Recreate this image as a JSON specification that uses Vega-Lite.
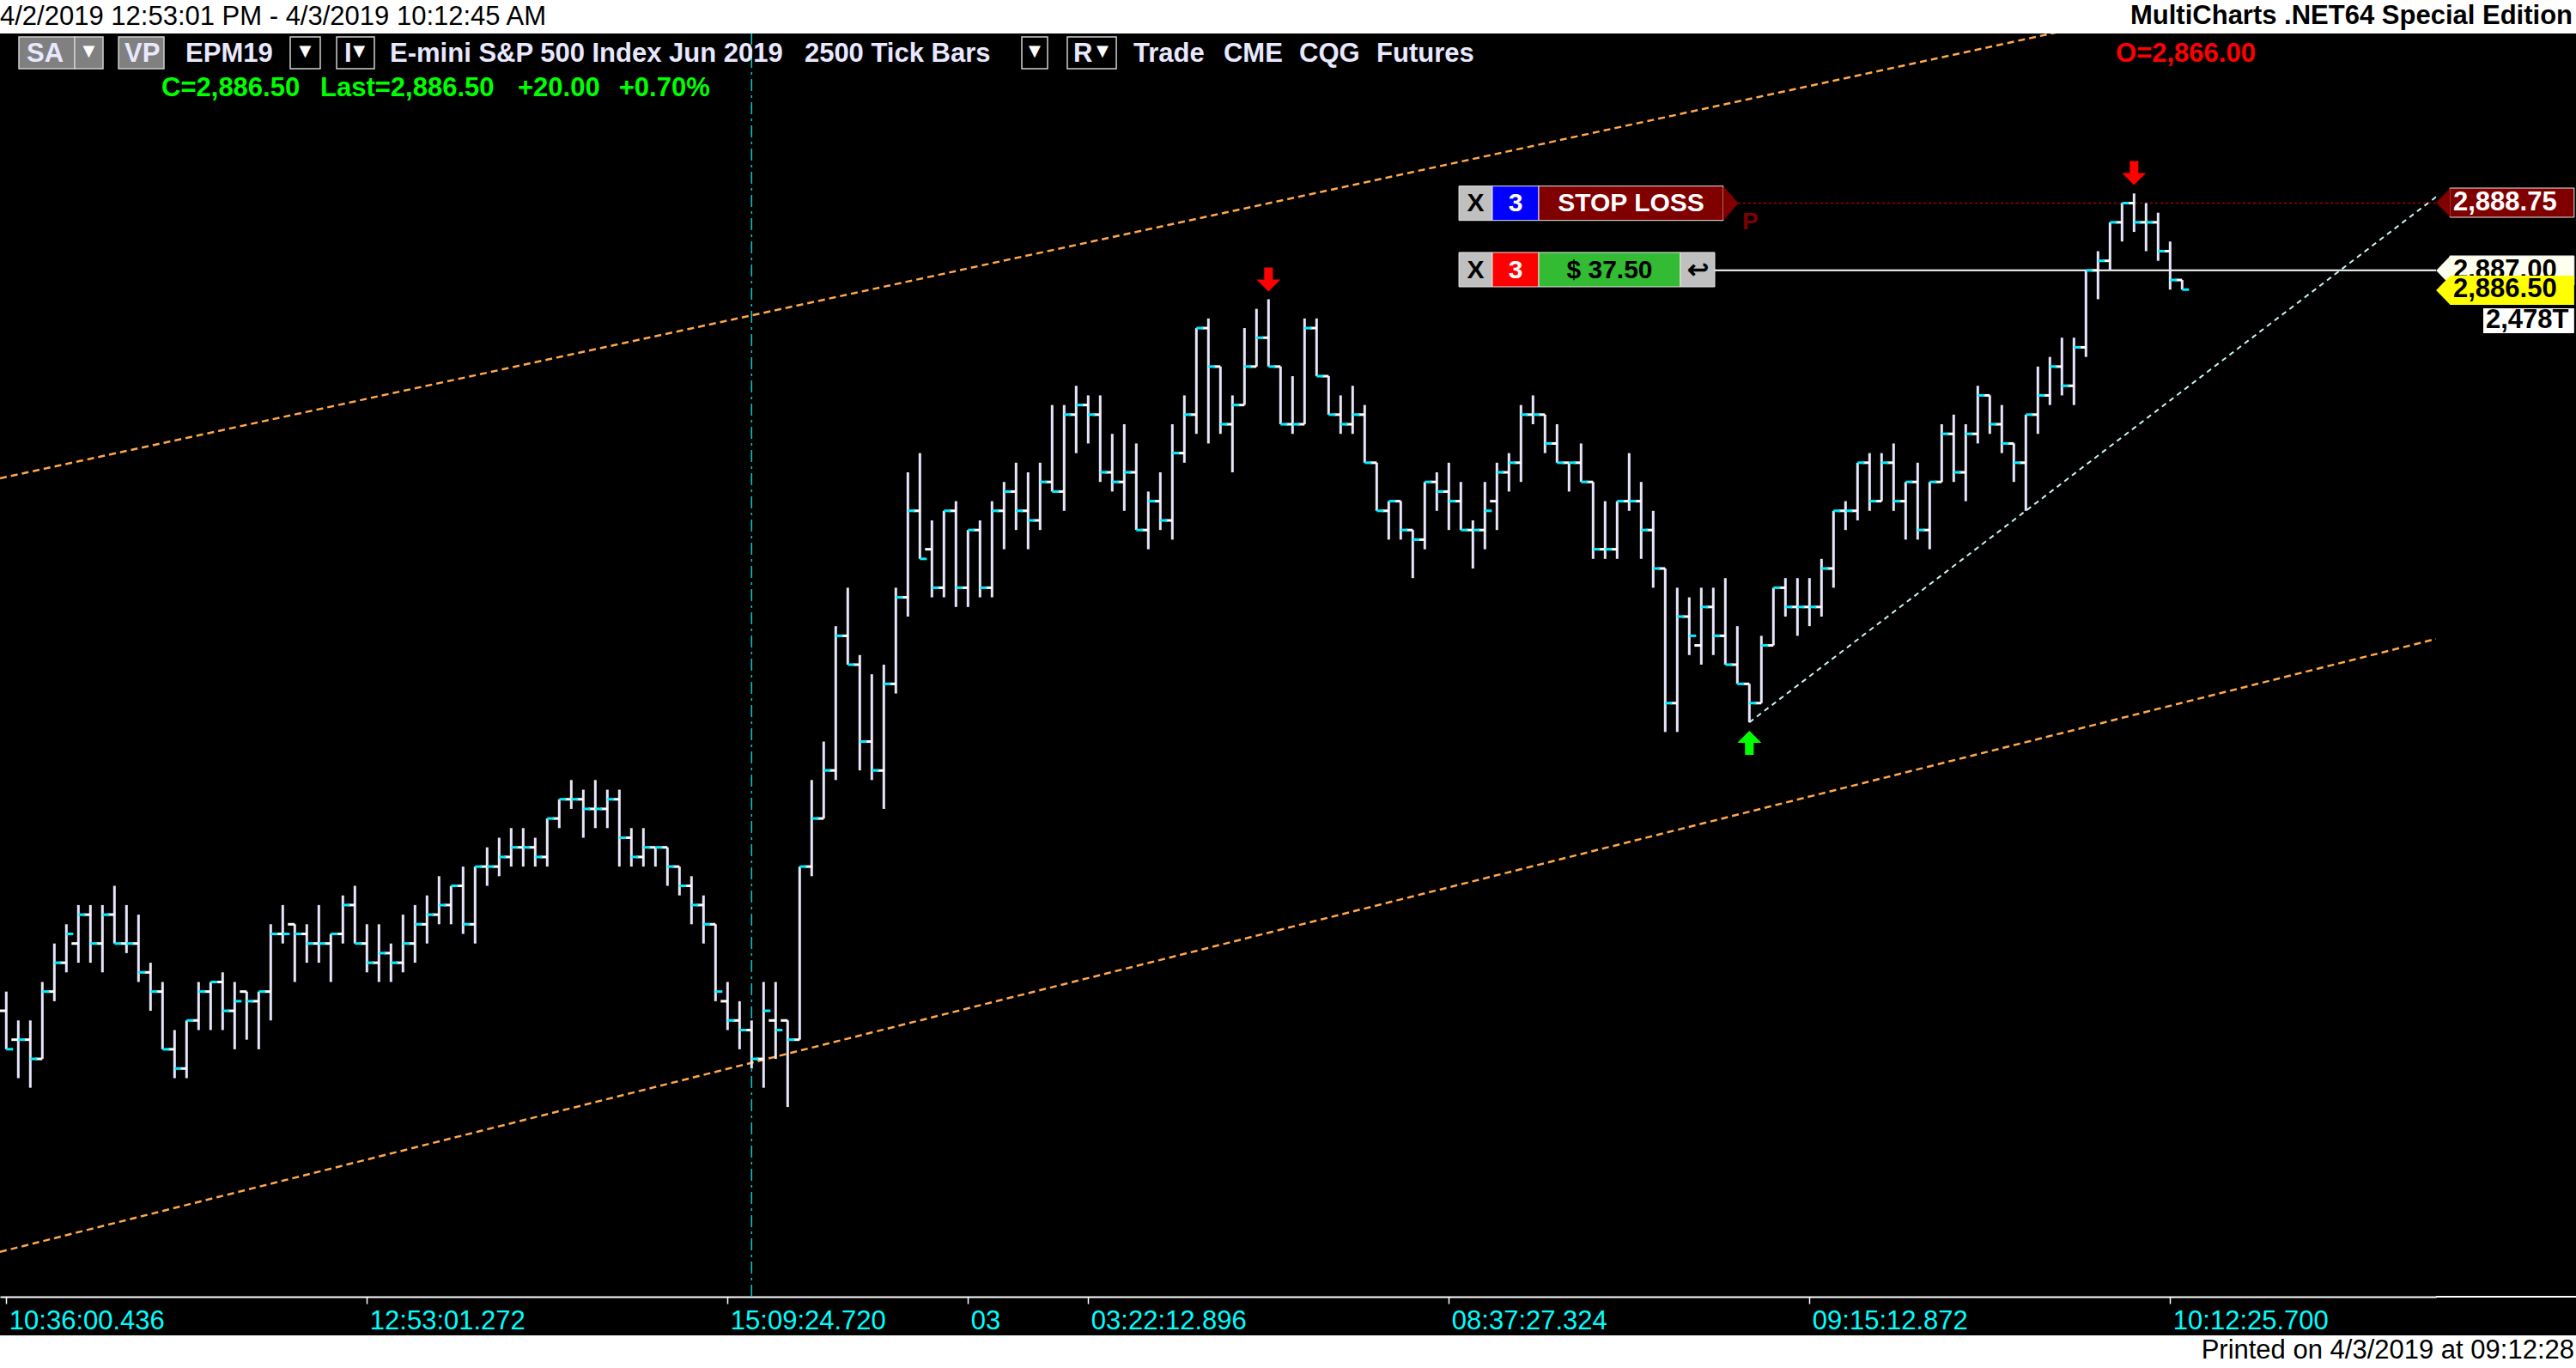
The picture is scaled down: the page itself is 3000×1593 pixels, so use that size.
{
"$schema":"https://vega.github.io/schema/vega-lite/v6.json",
"width":2837,"height":1471,
"autosize":{"type":"none"},
"padding":{"left":0,"top":39,"right":163,"bottom":83},
"background":"#000000",
"config":{"view":{"stroke":null},"axis":{"grid":false}},
"datasets":{
"bars":[
{"x":0,"o":2867.75,"h":2868.25,"l":2866.75,"c":2866.75},
{"x":1,"o":2867,"h":2867.5,"l":2866,"c":2867},
{"x":2,"o":2867,"h":2867.5,"l":2865.75,"c":2866.5},
{"x":3,"o":2866.5,"h":2868.5,"l":2866.5,"c":2868.25},
{"x":4,"o":2868.25,"h":2869.5,"l":2868,"c":2869},
{"x":5,"o":2869,"h":2870,"l":2868.75,"c":2869.75},
{"x":6,"o":2869.5,"h":2870.5,"l":2869,"c":2870.25},
{"x":7,"o":2870.25,"h":2870.5,"l":2869,"c":2869.5},
{"x":8,"o":2869.5,"h":2870.5,"l":2868.75,"c":2870.25},
{"x":9,"o":2870.25,"h":2871,"l":2869.5,"c":2869.5},
{"x":10,"o":2869.5,"h":2870.5,"l":2869.25,"c":2869.5},
{"x":11,"o":2869.5,"h":2870.25,"l":2868.5,"c":2868.75},
{"x":12,"o":2868.75,"h":2869,"l":2867.75,"c":2868.25},
{"x":13,"o":2868.25,"h":2868.5,"l":2866.75,"c":2866.75},
{"x":14,"o":2866.75,"h":2867.25,"l":2866,"c":2866.25},
{"x":15,"o":2866.25,"h":2867.5,"l":2866,"c":2867.5},
{"x":16,"o":2867.5,"h":2868.5,"l":2867.25,"c":2868.25},
{"x":17,"o":2868.25,"h":2868.5,"l":2867.25,"c":2868.5},
{"x":18,"o":2868.5,"h":2868.75,"l":2867.25,"c":2867.75},
{"x":19,"o":2867.75,"h":2868.5,"l":2866.75,"c":2868},
{"x":20,"o":2868.25,"h":2868.25,"l":2867,"c":2868},
{"x":21,"o":2868,"h":2868.25,"l":2866.75,"c":2868.25},
{"x":22,"o":2868.25,"h":2870,"l":2867.5,"c":2869.75},
{"x":23,"o":2869.75,"h":2870.5,"l":2869.5,"c":2869.75},
{"x":24,"o":2870,"h":2870,"l":2868.5,"c":2869.75},
{"x":25,"o":2869.75,"h":2870,"l":2869,"c":2869.5},
{"x":26,"o":2869.5,"h":2870.5,"l":2869,"c":2869.5},
{"x":27,"o":2869.5,"h":2869.75,"l":2868.5,"c":2869.75},
{"x":28,"o":2869.75,"h":2870.75,"l":2869.5,"c":2870.5},
{"x":29,"o":2870.5,"h":2871,"l":2869.5,"c":2869.5},
{"x":30,"o":2869.5,"h":2870,"l":2868.75,"c":2869},
{"x":31,"o":2869,"h":2870,"l":2868.5,"c":2869.25},
{"x":32,"o":2869.25,"h":2869.5,"l":2868.5,"c":2869},
{"x":33,"o":2869,"h":2870.25,"l":2868.75,"c":2869.5},
{"x":34,"o":2869.5,"h":2870.5,"l":2869,"c":2870},
{"x":35,"o":2870,"h":2870.75,"l":2869.5,"c":2870.25},
{"x":36,"o":2870.25,"h":2871.25,"l":2870,"c":2870.5},
{"x":37,"o":2870.5,"h":2871,"l":2870,"c":2871},
{"x":38,"o":2871,"h":2871.5,"l":2869.75,"c":2870},
{"x":39,"o":2870,"h":2871.5,"l":2869.5,"c":2871.5},
{"x":40,"o":2871.5,"h":2872,"l":2871,"c":2871.5},
{"x":41,"o":2871.5,"h":2872.25,"l":2871.25,"c":2871.75},
{"x":42,"o":2871.75,"h":2872.5,"l":2871.5,"c":2872},
{"x":43,"o":2872,"h":2872.5,"l":2871.5,"c":2872},
{"x":44,"o":2872,"h":2872.25,"l":2871.5,"c":2871.75},
{"x":45,"o":2871.75,"h":2872.75,"l":2871.5,"c":2872.75},
{"x":46,"o":2872.75,"h":2873.25,"l":2872.5,"c":2873.25},
{"x":47,"o":2873.25,"h":2873.75,"l":2873,"c":2873.25},
{"x":48,"o":2873.25,"h":2873.5,"l":2872.25,"c":2873},
{"x":49,"o":2873,"h":2873.75,"l":2872.5,"c":2873},
{"x":50,"o":2873,"h":2873.5,"l":2872.5,"c":2873.25},
{"x":51,"o":2873.25,"h":2873.5,"l":2871.5,"c":2872.25},
{"x":52,"o":2872.25,"h":2872.5,"l":2871.5,"c":2871.75},
{"x":53,"o":2871.75,"h":2872.5,"l":2871.5,"c":2872},
{"x":54,"o":2872,"h":2872,"l":2871.5,"c":2872},
{"x":55,"o":2872,"h":2872,"l":2871,"c":2871.5},
{"x":56,"o":2871.5,"h":2871.5,"l":2870.75,"c":2871},
{"x":57,"o":2871,"h":2871.25,"l":2870,"c":2870.5},
{"x":58,"o":2870.5,"h":2870.75,"l":2869.5,"c":2870},
{"x":59,"o":2870,"h":2870,"l":2868,"c":2868.25},
{"x":60,"o":2868,"h":2868.5,"l":2867.25,"c":2867.5},
{"x":61,"o":2867.5,"h":2868,"l":2866.75,"c":2867.25},
{"x":62,"o":2867.25,"h":2867.5,"l":2866.25,"c":2866.5},
{"x":63,"o":2866.5,"h":2868.5,"l":2865.75,"c":2867.75},
{"x":64,"o":2867.5,"h":2868.5,"l":2866.5,"c":2867.25},
{"x":65,"o":2867.5,"h":2867.5,"l":2865.25,"c":2867},
{"x":66,"o":2867,"h":2871.5,"l":2867,"c":2871.5},
{"x":67,"o":2871.5,"h":2873.75,"l":2871.25,"c":2872.75},
{"x":68,"o":2872.75,"h":2874.75,"l":2872.75,"c":2874},
{"x":69,"o":2874,"h":2877.75,"l":2873.75,"c":2877.5},
{"x":70,"o":2877.5,"h":2878.75,"l":2876.75,"c":2876.75},
{"x":71,"o":2876.75,"h":2877,"l":2874,"c":2874.75},
{"x":72,"o":2874.75,"h":2876.5,"l":2873.75,"c":2874},
{"x":73,"o":2874,"h":2876.75,"l":2873,"c":2876.25},
{"x":74,"o":2876.25,"h":2878.75,"l":2876,"c":2878.5},
{"x":75,"o":2878.5,"h":2881.75,"l":2878,"c":2880.75},
{"x":76,"o":2880.75,"h":2882.25,"l":2879.5,"c":2879.5},
{"x":77,"o":2879.75,"h":2880.5,"l":2878.5,"c":2878.75},
{"x":78,"o":2878.75,"h":2880.75,"l":2878.5,"c":2880.75},
{"x":79,"o":2880.75,"h":2881,"l":2878.25,"c":2878.75},
{"x":80,"o":2878.75,"h":2880.25,"l":2878.25,"c":2880.25},
{"x":81,"o":2880.25,"h":2880.5,"l":2878.5,"c":2878.75},
{"x":82,"o":2878.75,"h":2881,"l":2878.5,"c":2880.75},
{"x":83,"o":2880.75,"h":2881.5,"l":2879.75,"c":2881.25},
{"x":84,"o":2881.25,"h":2882,"l":2880.25,"c":2880.75},
{"x":85,"o":2880.75,"h":2881.75,"l":2879.75,"c":2880.5},
{"x":86,"o":2880.5,"h":2882,"l":2880.25,"c":2881.5},
{"x":87,"o":2881.5,"h":2883.5,"l":2881.25,"c":2881.25},
{"x":88,"o":2881.25,"h":2883.5,"l":2880.75,"c":2883.25},
{"x":89,"o":2883.25,"h":2884,"l":2882.25,"c":2883.5},
{"x":90,"o":2883.5,"h":2883.75,"l":2882.5,"c":2883.25},
{"x":91,"o":2883.25,"h":2883.75,"l":2881.5,"c":2881.75},
{"x":92,"o":2881.75,"h":2882.75,"l":2881.25,"c":2881.5},
{"x":93,"o":2881.5,"h":2883,"l":2880.75,"c":2881.75},
{"x":94,"o":2881.75,"h":2882.5,"l":2880.25,"c":2880.25},
{"x":95,"o":2880.25,"h":2881.25,"l":2879.75,"c":2881},
{"x":96,"o":2881,"h":2881.75,"l":2880.25,"c":2880.5},
{"x":97,"o":2880.5,"h":2883,"l":2880,"c":2882.25},
{"x":98,"o":2882.25,"h":2883.75,"l":2882,"c":2883.25},
{"x":99,"o":2883.25,"h":2885.5,"l":2882.75,"c":2885.5},
{"x":100,"o":2885.5,"h":2885.75,"l":2882.5,"c":2884.5},
{"x":101,"o":2884.5,"h":2884.5,"l":2882.75,"c":2883},
{"x":102,"o":2883,"h":2883.75,"l":2881.75,"c":2883.5},
{"x":103,"o":2883.5,"h":2885.5,"l":2883.5,"c":2884.5},
{"x":104,"o":2884.5,"h":2886,"l":2884.5,"c":2885.25},
{"x":105,"o":2885.25,"h":2886.25,"l":2884.5,"c":2884.5},
{"x":106,"o":2884.5,"h":2884.5,"l":2883,"c":2883},
{"x":107,"o":2883,"h":2884.25,"l":2882.75,"c":2883},
{"x":108,"o":2883,"h":2885.75,"l":2883,"c":2885.5},
{"x":109,"o":2885.5,"h":2885.75,"l":2884.25,"c":2884.25},
{"x":110,"o":2884.25,"h":2884.25,"l":2883.25,"c":2883.25},
{"x":111,"o":2883.25,"h":2883.75,"l":2882.75,"c":2883},
{"x":112,"o":2883,"h":2884,"l":2882.75,"c":2883.25},
{"x":113,"o":2883.25,"h":2883.5,"l":2882,"c":2882},
{"x":114,"o":2882,"h":2882,"l":2880.75,"c":2880.75},
{"x":115,"o":2880.75,"h":2881,"l":2880,"c":2881},
{"x":116,"o":2881,"h":2881,"l":2880,"c":2880.25},
{"x":117,"o":2880.25,"h":2880.25,"l":2879,"c":2880},
{"x":118,"o":2880,"h":2881.5,"l":2879.75,"c":2881.5},
{"x":119,"o":2881.5,"h":2881.75,"l":2880.75,"c":2881.25},
{"x":120,"o":2881.25,"h":2882,"l":2880.25,"c":2881},
{"x":121,"o":2881,"h":2881.5,"l":2880.25,"c":2880.25},
{"x":122,"o":2880.25,"h":2880.5,"l":2879.25,"c":2880.25},
{"x":123,"o":2880.25,"h":2881.5,"l":2879.75,"c":2880.75},
{"x":124,"o":2881,"h":2882,"l":2880.25,"c":2881.75},
{"x":125,"o":2881.75,"h":2882.25,"l":2881.25,"c":2882},
{"x":126,"o":2882,"h":2883.5,"l":2881.5,"c":2883.25},
{"x":127,"o":2883.25,"h":2883.75,"l":2883,"c":2883.25},
{"x":128,"o":2883.25,"h":2883.25,"l":2882.25,"c":2882.5},
{"x":129,"o":2882.5,"h":2883,"l":2882,"c":2882},
{"x":130,"o":2882,"h":2882,"l":2881.25,"c":2882},
{"x":131,"o":2882,"h":2882.5,"l":2881.5,"c":2881.5},
{"x":132,"o":2881.5,"h":2881.5,"l":2879.5,"c":2879.75},
{"x":133,"o":2879.75,"h":2881,"l":2879.5,"c":2879.75},
{"x":134,"o":2879.75,"h":2881,"l":2879.5,"c":2881},
{"x":135,"o":2881,"h":2882.25,"l":2880.75,"c":2881},
{"x":136,"o":2881,"h":2881.5,"l":2879.5,"c":2880.25},
{"x":137,"o":2880.25,"h":2880.75,"l":2878.75,"c":2879.25},
{"x":138,"o":2879.25,"h":2879.25,"l":2875,"c":2875.75},
{"x":139,"o":2875.75,"h":2878.75,"l":2875,"c":2878},
{"x":140,"o":2878,"h":2878.5,"l":2877,"c":2877.5},
{"x":141,"o":2877.25,"h":2878.75,"l":2876.75,"c":2878.25},
{"x":142,"o":2878.25,"h":2878.75,"l":2877,"c":2877.5},
{"x":143,"o":2877.5,"h":2879,"l":2876.75,"c":2876.75},
{"x":144,"o":2876.75,"h":2877.75,"l":2876.25,"c":2876.25},
{"x":145,"o":2876.25,"h":2876.25,"l":2875.25,"c":2875.75},
{"x":146,"o":2875.75,"h":2877.5,"l":2875.75,"c":2877.25},
{"x":147,"o":2877.25,"h":2878.75,"l":2877.25,"c":2878.75},
{"x":148,"o":2878.75,"h":2879,"l":2878,"c":2878.25},
{"x":149,"o":2878.25,"h":2879,"l":2877.5,"c":2878.25},
{"x":150,"o":2878.25,"h":2879,"l":2877.75,"c":2878.25},
{"x":151,"o":2878.25,"h":2879.5,"l":2878,"c":2879.25},
{"x":152,"o":2879.25,"h":2880.75,"l":2878.75,"c":2880.75},
{"x":153,"o":2880.75,"h":2881,"l":2880.25,"c":2880.75},
{"x":154,"o":2880.75,"h":2882,"l":2880.5,"c":2882},
{"x":155,"o":2882,"h":2882.25,"l":2880.75,"c":2881},
{"x":156,"o":2881,"h":2882.25,"l":2881,"c":2882},
{"x":157,"o":2882,"h":2882.5,"l":2880.75,"c":2881},
{"x":158,"o":2881,"h":2881.5,"l":2880,"c":2881.5},
{"x":159,"o":2881.5,"h":2882,"l":2880,"c":2880.25},
{"x":160,"o":2880.25,"h":2881.5,"l":2879.75,"c":2881.5},
{"x":161,"o":2881.5,"h":2883,"l":2881.5,"c":2882.75},
{"x":162,"o":2882.75,"h":2883.25,"l":2881.5,"c":2881.75},
{"x":163,"o":2881.75,"h":2883,"l":2881,"c":2882.75},
{"x":164,"o":2882.75,"h":2884,"l":2882.5,"c":2883.75},
{"x":165,"o":2883.75,"h":2883.75,"l":2882.75,"c":2883},
{"x":166,"o":2883,"h":2883.5,"l":2882.25,"c":2882.5},
{"x":167,"o":2882.5,"h":2882.5,"l":2881.5,"c":2882},
{"x":168,"o":2882,"h":2883.25,"l":2880.75,"c":2883.25},
{"x":169,"o":2883.25,"h":2884.5,"l":2882.75,"c":2883.75},
{"x":170,"o":2883.75,"h":2884.75,"l":2883.5,"c":2884.5},
{"x":171,"o":2884.5,"h":2885.25,"l":2883.75,"c":2884},
{"x":172,"o":2884,"h":2885.25,"l":2883.5,"c":2885},
{"x":173,"o":2885,"h":2887,"l":2884.75,"c":2887},
{"x":174,"o":2887,"h":2887.5,"l":2886.25,"c":2887.25},
{"x":175,"o":2887.25,"h":2888.25,"l":2887,"c":2888.25},
{"x":176,"o":2888.25,"h":2888.75,"l":2887.75,"c":2888.75},
{"x":177,"o":2888.75,"h":2889,"l":2888,"c":2888.25},
{"x":178,"o":2888.25,"h":2888.75,"l":2887.5,"c":2888.25},
{"x":179,"o":2888.25,"h":2888.5,"l":2887.25,"c":2887.5},
{"x":180,"o":2887.5,"h":2887.75,"l":2886.5,"c":2886.75},
{"x":181,"o":2886.75,"h":2886.75,"l":2886.5,"c":2886.5}
],
"strips":[{"x":-0.6,"x2":214,"y":2893.159,"y2":2894.3},{"x":-0.6,"x2":214,"y":2859.312,"y2":2858.2}],
"chan":[{"k":"u","x":-0.5214,"y":2881.594},{"k":"u","x":202.121,"y":2895.327},{"k":"l","x":-0.5214,"y":2861.483},{"k":"l","x":202.121,"y":2877.419}],
"trend":[{"x":145,"y":2875.25},{"x":202.121,"y":2888.909}],
"hdrRects":[
{"x":1.05,"x2":5.69,"y":2893.07,"y2":2892.244,"k":"gray"},
{"x":5.69,"x2":8.05,"y":2893.07,"y2":2892.244,"k":"gray"},
{"x":9.34,"x2":13.12,"y":2893.07,"y2":2892.244,"k":"gray"},
{"x":23.62,"x2":26.12,"y":2893.07,"y2":2892.244,"k":"blk"},
{"x":27.48,"x2":30.62,"y":2893.07,"y2":2892.244,"k":"blk"},
{"x":84.48,"x2":86.62,"y":2893.07,"y2":2892.244,"k":"blk"},
{"x":88.26,"x2":92.34,"y":2893.07,"y2":2892.244,"k":"blk"}
],
"hdrText":[
{"x":1.69,"y":2892.422,"t":"SA"},{"x":9.84,"y":2892.422,"t":"VP"},{"x":14.91,"y":2892.422,"t":"EPM19"},
{"x":28.12,"y":2892.422,"t":"I"},{"x":31.91,"y":2892.422,"t":"E-mini S&P 500 Index Jun 2019"},
{"x":66.4,"y":2892.422,"t":"2500 Tick Bars"},{"x":88.77,"y":2892.422,"t":"R"},
{"x":93.76,"y":2892.422,"t":"Trade"},{"x":101.26,"y":2892.422,"t":"CME"},{"x":107.55,"y":2892.422,"t":"CQG"},{"x":113.98,"y":2892.422,"t":"Futures"}
],
"tri":[{"x":6.87,"y":2892.69,"t":"▼"},{"x":24.87,"y":2892.69,"t":"▼"},{"x":29.34,"y":2892.69,"t":"▼"},{"x":85.55,"y":2892.69,"t":"▼"},{"x":91.19,"y":2892.69,"t":"▼"}],
"greenText":[{"x":12.91,"y":2891.529,"t":"C=2,886.50"},{"x":26.12,"y":2891.529,"t":"Last=2,886.50"},{"x":42.55,"y":2891.529,"t":"+20.00"},{"x":50.96,"y":2891.529,"t":"+0.70%"}],
"boxesA":[
{"x":120.84,"x2":123.62,"y":2889.192,"y2":2888.299,"k":"lgray"},
{"x":123.62,"x2":127.48,"y":2889.192,"y2":2888.299,"k":"blue"},
{"x":127.48,"x2":142.84,"y":2889.192,"y2":2888.299,"k":"dred"},
{"x":120.84,"x2":123.62,"y":2887.466,"y2":2886.573,"k":"lgray"},
{"x":123.62,"x2":127.48,"y":2887.466,"y2":2886.573,"k":"red"},
{"x":127.48,"x2":139.26,"y":2887.466,"y2":2886.573,"k":"green"},
{"x":139.26,"x2":142.12,"y":2887.466,"y2":2886.573,"k":"lgray"},
{"x":203.27,"x2":213.61,"y":2889.14,"y2":2888.381,"k":"dred"},
{"x":203.27,"x2":213.61,"y":2887.377,"y2":2886.618,"k":"ivory"}
],
"panelText":[
{"x":122.23,"y":2888.745,"t":"X","k":"black"},{"x":125.55,"y":2888.745,"t":"3","k":"white"},{"x":135.16,"y":2888.745,"t":"STOP LOSS","k":"white"},
{"x":122.23,"y":2887.0,"t":"X","k":"black"},{"x":125.55,"y":2887.0,"t":"3","k":"white"},{"x":133.37,"y":2887.0,"t":"$ 37.50","k":"black"},{"x":140.7,"y":2887.0,"t":"↩","k":"black"}
],
"tagTextA":[{"x":203.55,"y":2888.75,"t":"2,888.75","k":"white"},{"x":203.55,"y":2887.0,"t":"2,887.00","k":"black"}],
"boxesB":[{"x":203.27,"x2":213.61,"y":2886.863,"y2":2886.104,"k":"yellow"},{"x":206.05,"x2":213.61,"y":2886.015,"y2":2885.367,"k":"white"}],
"tagTextB":[{"x":203.55,"y":2886.5,"t":"2,886.50","k":"black"},{"x":206.26,"y":2885.691,"t":"2,478T","k":"black"}]
},
"encoding":{
"x":{"field":"x","type":"quantitative","scale":{"domain":[-0.5214,202.121],"nice":false,"zero":false},
"axis":{"orient":"bottom","values":[0,30,60,80,90,120,150,180],
"labelExpr":"datum.value==0?'10:36:00.436':datum.value==30?'12:53:01.272':datum.value==60?'15:09:24.720':datum.value==80?'03':datum.value==90?'03:22:12.896':datum.value==120?'08:37:27.324':datum.value==150?'09:15:12.872':'10:12:25.700'",
"labelAlign":"left","labelBaseline":"top","labelOffset":3,"labelPadding":5,"labelColor":"#00FFFF","labelFont":"Liberation Sans","labelFontSize":31,"labelFlush":false,"labelOverlap":false,"labelBound":false,"labelLimit":0,
"tickColor":"#FFFFFF","tickSize":8,"tickWidth":1.5,"domainColor":"#FFFFFF","domainWidth":2,"title":null,"grid":false}},
"y":{"field":"y","type":"quantitative","scale":{"domain":[2860.317,2893.159],"nice":false,"zero":false},
"axis":{"orient":"right","values":[2861,2862,2863,2864,2865,2866,2867,2868,2869,2870,2871,2872,2873,2874,2875,2876,2877,2878,2879,2880,2881,2882,2883,2884,2885,2886,2887,2888,2889,2890,2891],
"labelExpr":"datum.value%2==0?format(datum.value,',.2f'):''",
"labelAlign":"left","labelBaseline":"middle","labelPadding":14,"labelColor":"#FFFFFF","labelFont":"Liberation Sans","labelFontWeight":"bold","labelFontSize":31,"labelFlush":false,"labelOverlap":false,"labelLimit":0,
"tickColor":"#FFFFFF","tickSize":4,"tickWidth":1.5,"domainColor":"#FFFFFF","domainWidth":2,"title":null,"grid":false}}
},
"layer":[
{"data":{"name":"strips"},"mark":{"type":"rect","fill":"#FFFFFF","clip":false},"encoding":{"x2":{"field":"x2"},"y2":{"field":"y2"}}},
{"data":{"values":[{"x":62,"y":2860.317,"y2":2893.159}]},"mark":{"type":"rule","stroke":"#00CCCC","strokeWidth":1.5,"strokeDash":[14,5,3,5]},"encoding":{"y2":{"field":"y2"}}},
{"data":{"name":"chan"},"mark":{"type":"line","stroke":"#FFA84C","strokeWidth":2.5,"strokeDash":[8,5],"clip":true},"encoding":{"detail":{"field":"k"}}},
{"data":{"name":"trend"},"mark":{"type":"line","stroke":"#C8F4F4","strokeWidth":2,"strokeDash":[6,5],"clip":true},"encoding":{}},
{"data":{"values":[{"x":142.12,"x2":202.121,"y":2887}]},"mark":{"type":"rule","stroke":"#FFFFFF","strokeWidth":2},"encoding":{"x2":{"field":"x2"}}},
{"data":{"values":[{"x":144.05,"x2":202.121,"y":2888.75}]},"mark":{"type":"rule","stroke":"#A00000","strokeWidth":1.5,"strokeDash":[3,3]},"encoding":{"x2":{"field":"x2"}}},
{"data":{"name":"bars"},"mark":{"type":"rule","stroke":"#E6E6FA","strokeWidth":3},
 "encoding":{"y":{"field":"l","type":"quantitative","scale":{"domain":[2860.317,2893.159],"nice":false,"zero":false},"axis":null},"y2":{"field":"h"}}},
{"data":{"name":"bars"},"mark":{"type":"tick","orient":"horizontal","size":8,"thickness":3,"xOffset":-4,"color":"#FFFFFF","opacity":1},
 "encoding":{"y":{"field":"o","type":"quantitative","scale":{"domain":[2860.317,2893.159],"nice":false,"zero":false},"axis":null}}},
{"data":{"name":"bars"},"mark":{"type":"tick","orient":"horizontal","size":8,"thickness":3,"xOffset":4,"color":"#00EEFF","opacity":1},
 "encoding":{"y":{"field":"c","type":"quantitative","scale":{"domain":[2860.317,2893.159],"nice":false,"zero":false},"axis":null}}},
{"data":{"values":[{"x":105,"y":2886.763},{"x":177,"y":2889.531}]},"mark":{"type":"point","shape":"M -0.36 -1 L 0.36 -1 L 0.36 0 L 1 0 L 0 1 L -1 0 L -0.36 0 Z","size":784,"filled":true,"fill":"#FF0000","opacity":1,"strokeWidth":0},"encoding":{}},
{"data":{"values":[{"x":145,"y":2874.717}]},"mark":{"type":"point","shape":"M -0.36 1 L 0.36 1 L 0.36 0 L 1 0 L 0 -1 L -1 0 L -0.36 0 Z","size":784,"filled":true,"fill":"#00FF00","opacity":1,"strokeWidth":0},"encoding":{}},
{"data":{"name":"hdrRects"},"mark":{"type":"rect","stroke":"#D0D0D0","strokeWidth":1.5,"clip":false},
 "encoding":{"x2":{"field":"x2"},"y2":{"field":"y2"},"fill":{"field":"k","type":"nominal","legend":null,"scale":{"domain":["gray","blk","lgray","blue","red","dred","green","ivory","yellow","white","black"],"range":["#808080","#000000","#C0C0C0","#0000FF","#FF0000","#800000","#33BB33","#FFFFF0","#FFFF00","#FFFFFF","#000000"]}}}},
{"data":{"name":"hdrText"},"mark":{"type":"text","fill":"#E8E8FF","font":"Liberation Sans","fontWeight":"bold","fontSize":31,"align":"left","baseline":"alphabetic"},"encoding":{"text":{"field":"t"}}},
{"data":{"name":"tri"},"mark":{"type":"text","fill":"#FFFFFF","font":"DejaVu Sans","fontSize":18,"align":"center","baseline":"middle"},"encoding":{"text":{"field":"t"}}},
{"data":{"name":"greenText"},"mark":{"type":"text","fill":"#00FF00","font":"Liberation Sans","fontWeight":"bold","fontSize":31,"align":"left","baseline":"alphabetic"},"encoding":{"text":{"field":"t"}}},
{"data":{"values":[{"x":175.48,"y":2892.422,"t":"O=2,866.00"}]},"mark":{"type":"text","fill":"#FF0000","font":"Liberation Sans","fontWeight":"bold","fontSize":31,"align":"left","baseline":"alphabetic"},"encoding":{"text":{"field":"t"}}},
{"data":{"values":[{"x":-0.52,"y":2893.382,"t":"4/2/2019 12:53:01 PM - 4/3/2019 10:12:45 AM"}]},"mark":{"type":"text","fill":"#000000","font":"Liberation Sans","fontSize":31,"align":"left","baseline":"alphabetic"},"encoding":{"text":{"field":"t"}}},
{"data":{"values":[{"x":213.48,"y":2893.4,"t":"MultiCharts .NET64 Special Edition"}]},"mark":{"type":"text","fill":"#000000","font":"Liberation Sans","fontWeight":"bold","fontSize":31,"align":"right","baseline":"alphabetic"},"encoding":{"text":{"field":"t"}}},
{"data":{"values":[{"x":213.62,"y":2858.71,"t":"Printed on 4/3/2019 at 09:12:28"}]},"mark":{"type":"text","fill":"#000000","font":"Liberation Sans","fontSize":31,"align":"right","baseline":"alphabetic"},"encoding":{"text":{"field":"t"}}},
{"data":{"name":"boxesA"},"mark":{"type":"rect","stroke":"#E8E8E8","strokeWidth":1,"clip":false},
 "encoding":{"x2":{"field":"x2"},"y2":{"field":"y2"},"fill":{"field":"k","type":"nominal","legend":null,"scale":{"domain":["gray","blk","lgray","blue","red","dred","green","ivory","yellow","white","black"],"range":["#808080","#000000","#C0C0C0","#0000FF","#FF0000","#800000","#33BB33","#FFFFF0","#FFFF00","#FFFFFF","#000000"]}}}},
{"data":{"values":[{"x":143.46,"y":2888.745}]},"mark":{"type":"point","shape":"M -0.4375 -1 L 0.4375 0 L -0.4375 1 Z","size":1600,"filled":true,"fill":"#800000","opacity":1,"strokeWidth":0},"encoding":{}},
{"data":{"values":[{"x":202.7,"y":2888.76,"k":"dred"},{"x":202.7,"y":2886.997,"k":"ivory"}]},"mark":{"type":"point","shape":"M 0.5 -1 L -0.47 0 L 0.5 1 Z","size":1156,"filled":true,"opacity":1,"strokeWidth":0,"clip":false},
 "encoding":{"fill":{"field":"k","type":"nominal","legend":null,"scale":{"domain":["gray","blk","lgray","blue","red","dred","green","ivory","yellow","white","black"],"range":["#808080","#000000","#C0C0C0","#0000FF","#FF0000","#800000","#33BB33","#FFFFF0","#FFFF00","#FFFFFF","#000000"]}}}},
{"data":{"name":"panelText"},"mark":{"type":"text","font":"Liberation Sans","fontWeight":"bold","fontSize":30,"align":"center","baseline":"middle"},
 "encoding":{"text":{"field":"t"},"fill":{"field":"k","type":"nominal","legend":null,"scale":{"domain":["gray","blk","lgray","blue","red","dred","green","ivory","yellow","white","black"],"range":["#808080","#000000","#C0C0C0","#0000FF","#FF0000","#800000","#33BB33","#FFFFF0","#FFFF00","#FFFFFF","#000000"]}}}},
{"data":{"values":[{"x":144.41,"y":2888.069,"t":"P"}]},"mark":{"type":"text","fill":"#800000","font":"Liberation Sans","fontWeight":"bold","fontSize":28,"align":"left","baseline":"alphabetic"},"encoding":{"text":{"field":"t"}}},
{"data":{"name":"tagTextA"},"mark":{"type":"text","font":"Liberation Sans","fontWeight":"bold","fontSize":31,"align":"left","baseline":"middle"},
 "encoding":{"text":{"field":"t"},"fill":{"field":"k","type":"nominal","legend":null,"scale":{"domain":["gray","blk","lgray","blue","red","dred","green","ivory","yellow","white","black"],"range":["#808080","#000000","#C0C0C0","#0000FF","#FF0000","#800000","#33BB33","#FFFFF0","#FFFF00","#FFFFFF","#000000"]}}}},
{"data":{"name":"boxesB"},"mark":{"type":"rect","clip":false},
 "encoding":{"x2":{"field":"x2"},"y2":{"field":"y2"},"fill":{"field":"k","type":"nominal","legend":null,"scale":{"domain":["gray","blk","lgray","blue","red","dred","green","ivory","yellow","white","black"],"range":["#808080","#000000","#C0C0C0","#0000FF","#FF0000","#800000","#33BB33","#FFFFF0","#FFFF00","#FFFFFF","#000000"]}}}},
{"data":{"values":[{"x":202.7,"y":2886.483}]},"mark":{"type":"point","shape":"M 0.5 -1 L -0.47 0 L 0.5 1 Z","size":1156,"filled":true,"fill":"#FFFF00","opacity":1,"strokeWidth":0,"clip":false},"encoding":{}},
{"data":{"name":"tagTextB"},"mark":{"type":"text","font":"Liberation Sans","fontWeight":"bold","fontSize":31,"align":"left","baseline":"middle"},
 "encoding":{"text":{"field":"t"},"fill":{"field":"k","type":"nominal","legend":null,"scale":{"domain":["gray","blk","lgray","blue","red","dred","green","ivory","yellow","white","black"],"range":["#808080","#000000","#C0C0C0","#0000FF","#FF0000","#800000","#33BB33","#FFFFF0","#FFFF00","#FFFFFF","#000000"]}}}},
{"data":{"values":[{"x":202.121,"x2":214,"y":2860.317}]},"mark":{"type":"rule","stroke":"#FFFFFF","strokeWidth":2,"clip":false},"encoding":{"x2":{"field":"x2"}}}
]
}
